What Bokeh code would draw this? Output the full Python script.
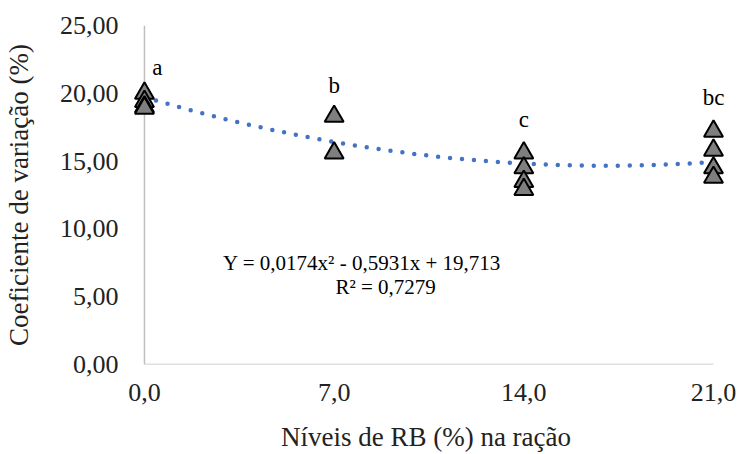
import numpy as np
from bokeh.plotting import figure
from bokeh.models import ColumnDataSource, FixedTicker, Range1d, Label
from bokeh.core.properties import value
from bokeh.embed import file_html
from bokeh.resources import INLINE

# Data
x_levels = [0.0, 0.0, 0.0, 0.0, 7.0, 7.0, 14.0, 14.0, 14.0, 14.0, 21.0, 21.0, 21.0, 21.0]
cv_values = [20.0, 19.4, 19.0, 18.9, 18.3, 15.6, 15.6, 14.5, 13.5, 12.9, 17.2, 15.8, 14.5, 13.8]
letter_x = [0.0, 7.0, 14.0, 21.0]
letter_y = [21.9, 20.6, 18.1, 19.7]
letters = ["a", "b", "c", "bc"]
x_ticks = [0.0, 7.0, 14.0, 21.0]
x_tick_labels = ["0,0", "7,0", "14,0", "21,0"]
y_ticks = [0, 5, 10, 15, 20, 25]
y_tick_labels = ["0,00", "5,00", "10,00", "15,00", "20,00", "25,00"]
x_axis_span = [0.0, 21.0]
y_axis_span = [0.0, 25.0]
trend_coef = [0.0174, -0.5931, 19.713]  # coefficients shown in the chart's equation

FONT = "Times New Roman, Liberation Serif, serif"

p = figure(width=738, height=454, output_backend="svg", toolbar_location=None,
           x_range=Range1d(-0.7, 21.48), y_range=Range1d(0, 25),
           min_border_left=125, min_border_right=12, min_border_top=25, min_border_bottom=88)
p.outline_line_color = None
p.xgrid.grid_line_color = None
p.ygrid.grid_line_color = None
p.background_fill_color = "white"

# axis lines (drawn at x=0 and y=0)
p.line([x_axis_span[0]] * 2, y_axis_span, line_color="#BFBFBF", line_width=1.5)
p.line(x_axis_span, [y_axis_span[0]] * 2, line_color="#BFBFBF", line_width=1.5)

# trend line
tx = np.linspace(x_axis_span[0], x_axis_span[1], 200)
ty = np.polyval(trend_coef, tx)
p.line(tx, ty, line_color="#4472C4", line_width=4.5, line_dash="0 12", line_cap="round")

src = ColumnDataSource(dict(x=x_levels, y=cv_values))
p.scatter("x", "y", source=src, marker="triangle", size=19,
          fill_color="#7F7F7F", line_color="black", line_width=2)

lsrc = ColumnDataSource(dict(x=letter_x, y=letter_y, t=letters))
lsrc.data["dx"] = [13, 0, 0, 0]
p.text("x", "y", text="t", source=lsrc, text_font=value(FONT), text_font_size="23px",
       text_align="center", text_baseline="middle", text_color="black",
       x_offset="dx")

p.add_layout(Label(x=8.03, y=7.5, text="Y = 0,0174x² - 0,5931x + 19,713",
                   text_font=FONT, text_font_size="21px", text_align="center",
                   text_baseline="middle", text_color="black"))
p.add_layout(Label(x=8.9, y=5.75, text="R² = 0,7279",
                   text_font=FONT, text_font_size="21px", text_align="center",
                   text_baseline="middle", text_color="black"))

for ax in (p.xaxis[0], p.yaxis[0]):
    ax.axis_line_color = None
    ax.major_tick_line_color = None
    ax.minor_tick_line_color = None
    ax.major_tick_out = 0
    ax.major_tick_in = 0
    ax.minor_tick_out = 0
    ax.major_label_text_font = FONT
    ax.major_label_text_font_size = "26px"
    ax.major_label_text_color = "#222222"
    ax.axis_label_text_font = FONT
    ax.axis_label_text_font_size = "27px"
    ax.axis_label_text_font_style = "normal"
    ax.axis_label_text_color = "#222222"

p.xaxis.ticker = FixedTicker(ticks=x_ticks)
p.xaxis.major_label_overrides = {t: l for t, l in zip(x_ticks, x_tick_labels)}
p.yaxis.ticker = FixedTicker(ticks=y_ticks)
p.yaxis.major_label_overrides = {t: l for t, l in zip(y_ticks, y_tick_labels)}
p.xaxis.axis_label = "Níveis de RB (%) na ração"
p.yaxis.axis_label = "Coeficiente de variação (%)"
p.xaxis.major_label_standoff = 19
p.yaxis.major_label_standoff = 7
p.xaxis.axis_label_standoff = 18
p.yaxis.axis_label_standoff = 23

open("out.html", "w").write(file_html(p, INLINE))
